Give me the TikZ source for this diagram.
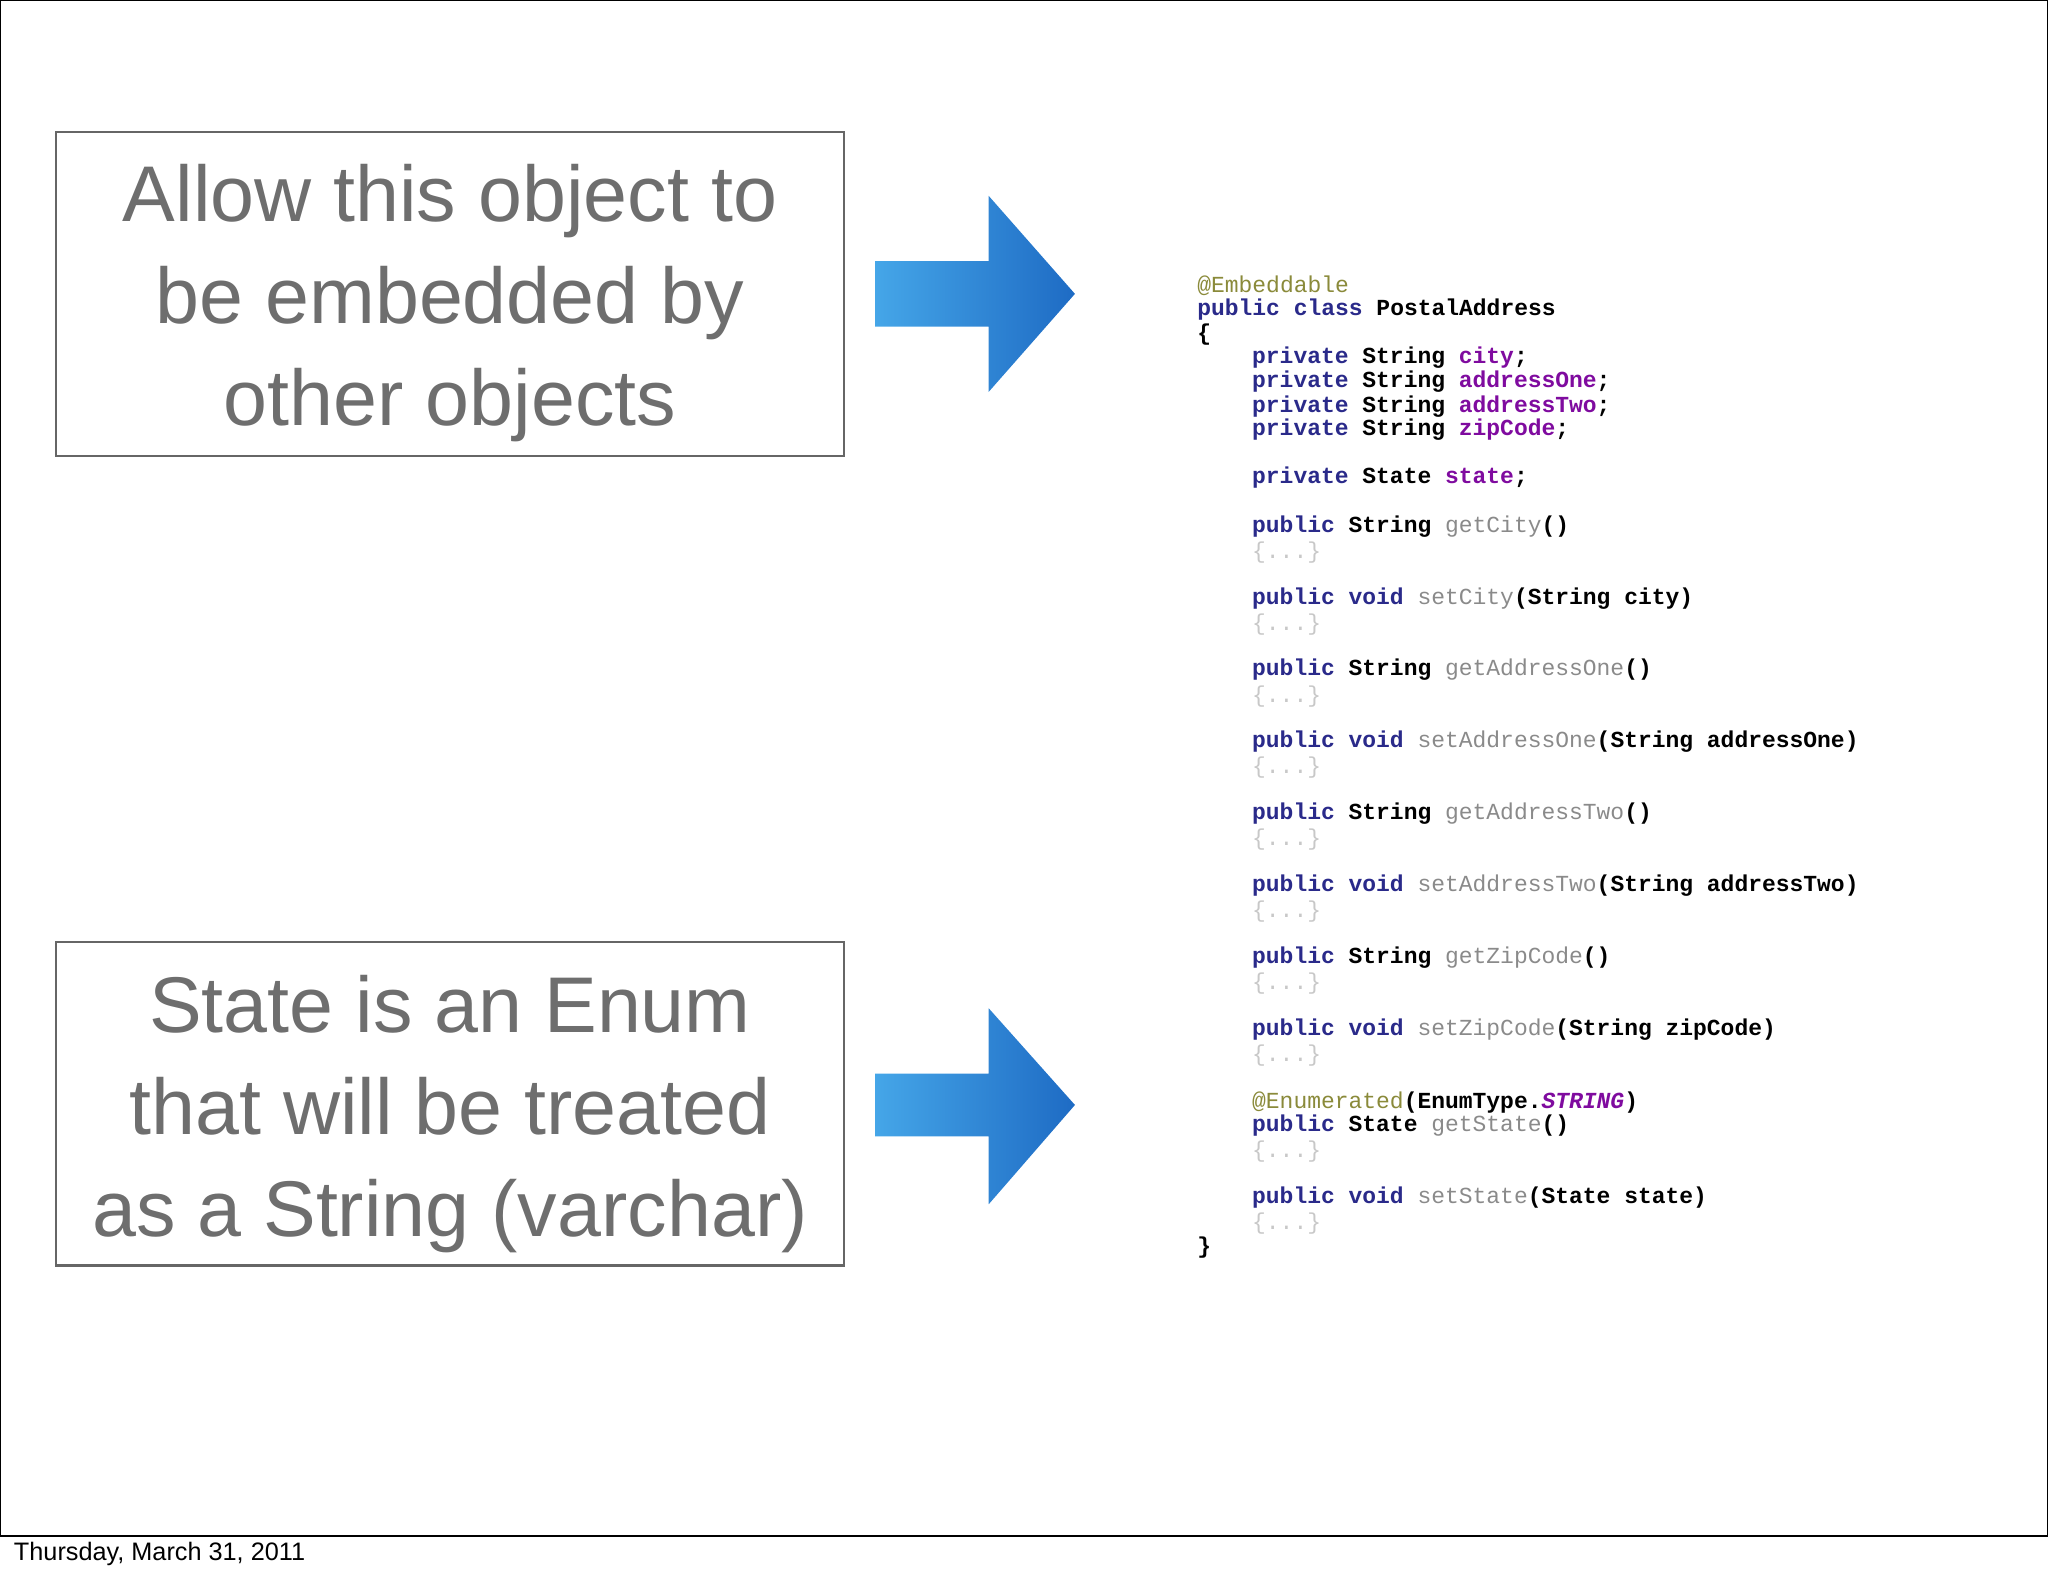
\documentclass[tikz,border=0pt]{standalone}
\usepackage{fontspec}
\setmainfont{Liberation Sans}
\newfontfamily\codefont{Liberation Mono}
\definecolor{kw}{HTML}{2A2A8A}
\definecolor{fld}{HTML}{7F0B9F}
\definecolor{ann}{HTML}{8A8A3A}
\definecolor{mth}{HTML}{8A8A8A}
\definecolor{dots}{HTML}{C8C8C8}
\definecolor{txtgray}{HTML}{6E6E6E}
\definecolor{bluel}{HTML}{45A6E8}
\definecolor{blued}{HTML}{1E6BC4}
\newcommand{\K}[1]{\textcolor{kw}{#1}}
\newcommand{\F}[1]{\textcolor{fld}{#1}}
\newcommand{\M}[1]{\textcolor{mth}{\mdseries #1}}
\newcommand{\D}{\textcolor{dots}{\mdseries\{...\}}}
\begin{document}
\begin{tikzpicture}[x=0.01cm,y=-0.01cm,
  box/.style={draw=gray!80!black,line width=0.5pt},
  bigtext/.style={text=txtgray,align=center,font=\fontsize{17.2}{22.2}\selectfont},
  code/.style={anchor=west,inner sep=0pt,font=\codefont\bfseries\fontsize{5}{5.2}\selectfont},
  arrowshape/.style={left color=bluel,right color=blued,draw=none}]
\useasboundingbox (0,0) rectangle (1568,1207);
\draw[line width=0.5pt] (0,0) rectangle (1568,1176);
\node[anchor=west,inner sep=0pt,font=\fontsize{5.5}{6}\selectfont] (foot) at (10,1190) {Thursday, March 31, 2011};
\draw[box] (43,101) rectangle (646,349);
\node[bigtext] (t1) at (344.5,232) {Allow this object to\\be embedded by\\other objects};
\draw[box] (43,721) rectangle (646,969);
\node[bigtext] (t2) at (344.5,853) {State is an Enum\\that will be treated\\as a String (varchar)};
\shade[arrowshape] (670,200) -- (757,200) -- (757,150) -- (823,225) -- (757,300) -- (757,250) -- (670,250) -- cycle;
\shade[arrowshape] (670,822) -- (757,822) -- (757,772) -- (823,846) -- (757,922) -- (757,870) -- (670,870) -- cycle;
\def\a{916}\def\b{958}
\node[code] (c1) at (\a,219) {\textcolor{ann}{\mdseries @Embeddable}};
\node[code] (c2) at (\a,237) {\K{public class} PostalAddress};
\node[code] (c3) at (\a,256) {\{};
\node[code] (c4) at (\b,274) {\K{private} String \F{city};};
\node[code] (c5) at (\b,292) {\K{private} String \F{addressOne};};
\node[code] (c6) at (\b,311) {\K{private} String \F{addressTwo};};
\node[code] (c7) at (\b,329) {\K{private} String \F{zipCode};};
\node[code] (c8) at (\b,366) {\K{private} State \F{state};};
\node[code] (c9) at (\b,403) {\K{public} String \M{getCity}()};
\node[code] (d1) at (\b,423) {\D};
\node[code] (c10) at (\b,458) {\K{public void} \M{setCity}(String city)};
\node[code] (d2) at (\b,478) {\D};
\node[code] (c11) at (\b,513) {\K{public} String \M{getAddressOne}()};
\node[code] (d3) at (\b,533) {\D};
\node[code] (c12) at (\b,568) {\K{public void} \M{setAddressOne}(String addressOne)};
\node[code] (d4) at (\b,588) {\D};
\node[code] (c13) at (\b,623) {\K{public} String \M{getAddressTwo}()};
\node[code] (d5) at (\b,643) {\D};
\node[code] (c14) at (\b,678) {\K{public void} \M{setAddressTwo}(String addressTwo)};
\node[code] (d6) at (\b,698) {\D};
\node[code] (c15) at (\b,733) {\K{public} String \M{getZipCode}()};
\node[code] (d7) at (\b,753) {\D};
\node[code] (c16) at (\b,788) {\K{public void} \M{setZipCode}(String zipCode)};
\node[code] (d8) at (\b,808) {\D};
\node[code] (c17) at (\b,844) {\textcolor{ann}{\mdseries @Enumerated}(EnumType.\F{\itshape STRING})};
\node[code] (c18) at (\b,862) {\K{public} State \M{getState}()};
\node[code] (d9) at (\b,882) {\D};
\node[code] (c19) at (\b,917) {\K{public void} \M{setState}(State state)};
\node[code] (d10) at (\b,937) {\D};
\node[code] (c20) at (\a,955) {\}};
\end{tikzpicture}
\end{document}
